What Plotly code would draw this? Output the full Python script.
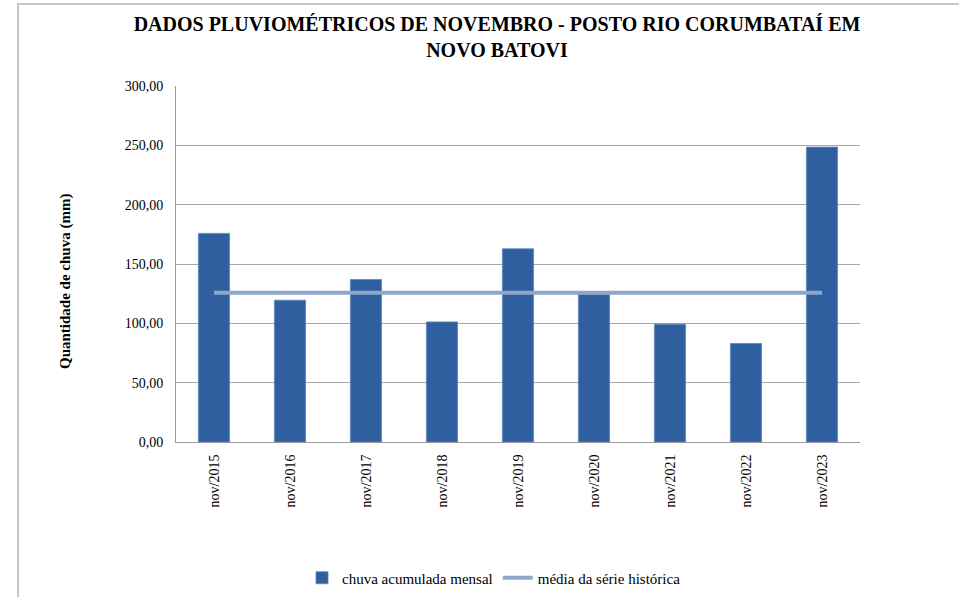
import plotly.graph_objects as go

categories = ["nov/2015", "nov/2016", "nov/2017", "nov/2018", "nov/2019",
              "nov/2020", "nov/2021", "nov/2022", "nov/2023"]
chuva_mensal = [175.8, 119.5, 137.0, 101.2, 162.8, 124.3, 99.3, 83.0, 248.5]
media_historica = [125.7] * len(categories)
y_ticks = [0, 50, 100, 150, 200, 250, 300]

SERIF = "Liberation Serif"

fig = go.Figure()
fig.add_trace(go.Bar(
    x=categories, y=chuva_mensal, name="chuva acumulada mensal",
    marker=dict(color="#2F5F9E", line=dict(color="#5B86BE", width=0.8)),
    width=0.41,
))
fig.add_trace(go.Scatter(
    x=categories, y=media_historica, name="média da série histórica",
    mode="lines", line=dict(color="#8FA6CD", width=4),
))

fig.update_layout(
    width=959, height=597,
    margin=dict(l=176, r=99, t=86, b=155),
    paper_bgcolor="white", plot_bgcolor="white",
    separators=",.",
    font=dict(family=SERIF, size=14, color="#000000"),
    title=dict(
        text="<b>DADOS PLUVIOMÉTRICOS DE NOVEMBRO - POSTO RIO CORUMBATAÍ EM<br>NOVO BATOVI</b>",
        x=497 / 959, xanchor="center", y=1 - 31 / 597, yanchor="middle",
        font=dict(family=SERIF, size=20, color="#000000"),
    ),
    showlegend=True,
    legend=dict(
        orientation="h", xref="container", yref="container",
        x=494 / 959, xanchor="center",
        y=1 - 578 / 597, yanchor="middle",
        font=dict(family=SERIF, size=15), itemwidth=30,
        traceorder="normal",
    ),
    xaxis=dict(
        tickangle=-90, showline=True, linecolor="#9A9A9A", linewidth=1,
        showgrid=False, ticks="", tickfont=dict(family=SERIF, size=14),
        ticklabelstandoff=6,
    ),
    yaxis=dict(
        range=[0, 300], tickvals=y_ticks, tickformat=".2f",
        showgrid=True, gridcolor="#A6A6A6", gridwidth=1,
        showline=True, linecolor="#9A9A9A", linewidth=1,
        ticks="", ticklabelstandoff=9,
        tickfont=dict(family=SERIF, size=14), zeroline=False,
    ),
    annotations=[dict(
        text="<b>Quantidade de chuva (mm)</b>", textangle=-90,
        xref="paper", yref="paper", x=(65 - 176) / 684, y=(442 - 282) / 356,
        xanchor="center", yanchor="middle", showarrow=False,
        font=dict(family=SERIF, size=15, color="#000000"),
    )],
    shapes=[dict(
        type="rect", xref="paper", yref="paper",
        x0=(18 - 176) / 684, x1=(975 - 176) / 684,
        y0=(442 - 615) / 356, y1=(442 - 4) / 356,
        line=dict(color="#C8C8C8", width=2), layer="below",
    )],
)

fig.write_html("out.html", config={"displayModeBar": False},
               post_script="document.body.style.margin='0';")
